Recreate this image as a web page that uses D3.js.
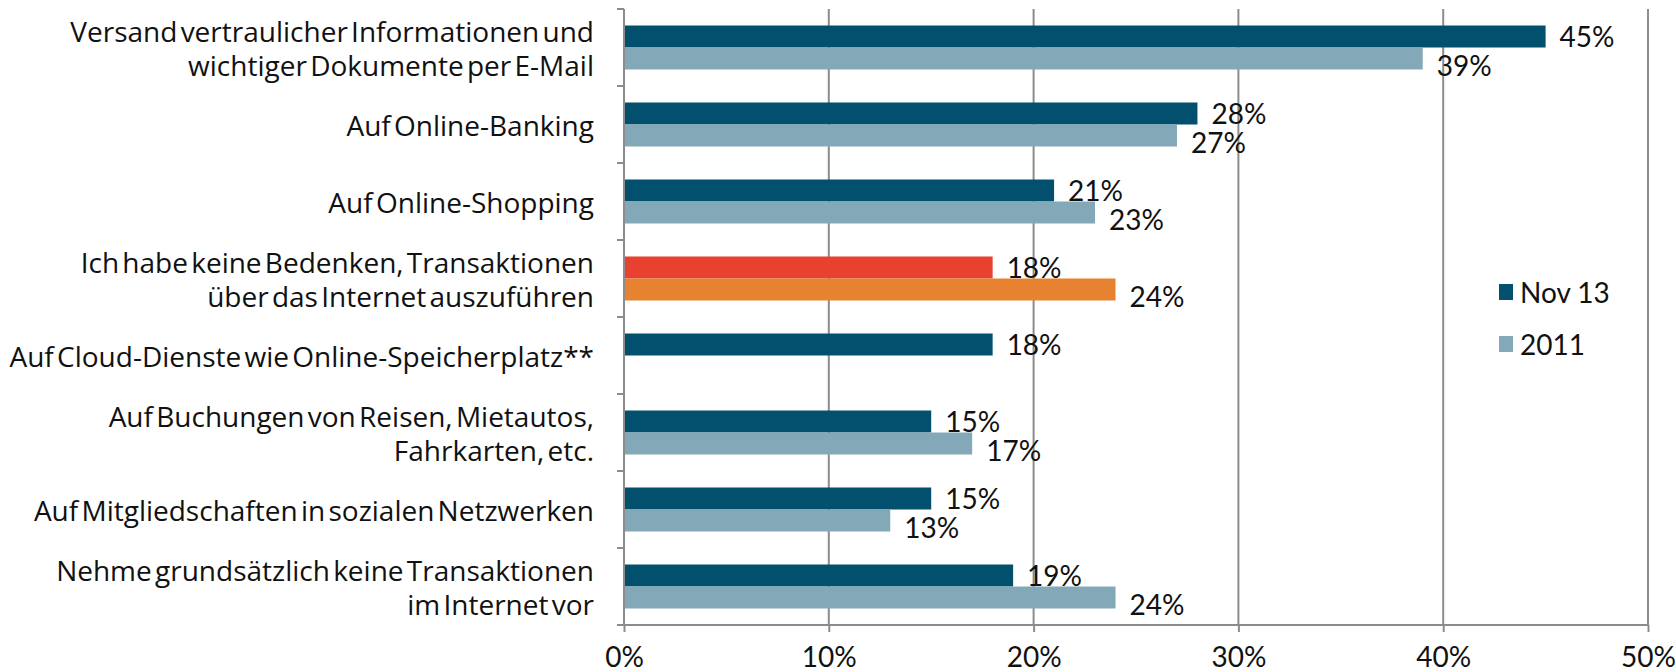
<html>
<head>
    <meta charset="utf-8">
    <title>Transaktionen im Internet</title>
    <script src="https://d3js.org/d3.v7.min.js"></script>
    <style>
        body { margin:0; background:#fff; }
        .cat { font-family:"Open Sans", sans-serif; font-size:28px; fill:#111; word-spacing:-4px; }
        .val, .legend text { font-family:Lato, sans-serif; font-size:28px; fill:#111; }
    </style>
</head>
<body>
    <svg id="chart" width="1676" height="672"></svg>

    <script>
        // category labels (line breaks as in the original)
        var categories = [
            ["Versand vertraulicher Informationen und", "wichtiger Dokumente per E-Mail"],
            ["Auf Online-Banking"],
            ["Auf Online-Shopping"],
            ["Ich habe keine Bedenken, Transaktionen", "über das Internet auszuführen"],
            ["Auf Cloud-Dienste wie Online-Speicherplatz**"],
            ["Auf Buchungen von Reisen, Mietautos,", "Fahrkarten, etc."],
            ["Auf Mitgliedschaften in sozialen Netzwerken"],
            ["Nehme grundsätzlich keine Transaktionen", "im Internet vor"]
        ];
        var series = ["Nov 13", "2011"];
        var nov13 = [45, 28, 21, 18, 18, 15, 15, 19];
        var y2011 = [39, 27, 23, 24, null, 17, 13, 24];
        var ticks = [0, 10, 20, 30, 40, 50];

        var colors = {"Nov 13": "#03506e", "2011": "#83a8b8"};
        var highlight = {"Nov 13": "#e8412f", "2011": "#e68230"};
        var highlightRow = 3;

        var svg = d3.select("#chart");
        var plotLeft = 624, plotRight = 1648, plotTop = 9, plotBottom = 625;

        var x = d3.scaleLinear().domain([0, 50]).range([plotLeft, plotRight]);
        var y = d3.scaleBand().domain(d3.range(categories.length)).range([plotTop, plotBottom]);
        var yInner = d3.scaleBand().domain(series).range([0, y.bandwidth()]).paddingOuter(0.75);

        // vertical gridlines
        svg.append("g").selectAll("line").data(ticks.slice(1)).enter().append("line")
            .attr("x1", function(d){ return x(d); }).attr("x2", function(d){ return x(d); })
            .attr("y1", plotTop).attr("y2", plotBottom)
            .style("stroke", "#8c8c8c").style("stroke-width", 2);

        var rows = categories.map(function(c, i){
            return [{s:"Nov 13", v:nov13[i], i:i}, {s:"2011", v:y2011[i], i:i}];
        });

        var groups = svg.append("g").selectAll("g").data(rows).enter().append("g")
            .attr("transform", function(d, i){ return "translate(0," + y(i) + ")"; });

        var bars = groups.selectAll("g.bar").data(function(d){ return d.filter(function(e){ return e.v !== null; }); })
            .enter().append("g").attr("class", "bar");

        bars.append("rect")
            .attr("x", x(0))
            .attr("y", function(d){ return yInner(d.s); })
            .attr("height", yInner.bandwidth())
            .attr("width", function(d){ return x(d.v) - x(0); })
            .style("fill", function(d){ return d.i === highlightRow ? highlight[d.s] : colors[d.s]; });

        bars.append("text").attr("class", "val")
            .attr("x", function(d){ return x(d.v) + 14; })
            .attr("y", function(d){ return yInner(d.s) + yInner.bandwidth() / 2 + (d.s === "2011" ? 6 : -1); })
            .attr("dominant-baseline", "central")
            .text(function(d){ return d.v + "%"; });

        // x axis
        var xAxis = svg.append("g")
            .attr("transform", "translate(0," + plotBottom + ")")
            .call(d3.axisBottom(x).tickValues(ticks).tickSize(7).tickPadding(14).tickFormat(function(d){ return d + "%"; }));
        xAxis.select(".domain").attr("d", "M" + (plotLeft - 7) + ",0H" + plotRight).style("stroke", "#8c8c8c").style("stroke-width", 2);
        xAxis.selectAll(".tick line").style("stroke", "#8c8c8c").style("stroke-width", 2);
        xAxis.selectAll("text").style("font-family", "Lato, sans-serif").style("font-size", "28px").style("fill", "#111")
            .attr("dy", "0.75em");

        // category axis
        var yAxis = svg.append("g").attr("transform", "translate(" + plotLeft + ",0)");
        yAxis.append("line").attr("x1", 0).attr("x2", 0).attr("y1", plotTop).attr("y2", plotBottom)
            .style("stroke", "#8c8c8c").style("stroke-width", 2);
        yAxis.selectAll("line.t").data(d3.range(categories.length + 1)).enter().append("line")
            .attr("x1", -7).attr("x2", 0)
            .attr("y1", function(d){ return plotTop + d * y.step(); })
            .attr("y2", function(d){ return plotTop + d * y.step(); })
            .style("stroke", "#8c8c8c").style("stroke-width", 2);

        var labels = svg.append("g").selectAll("text").data(categories).enter().append("text")
            .attr("class", "cat")
            .attr("text-anchor", "end")
            .attr("transform", function(d, i){ return "translate(594," + (y(i) + y.bandwidth() / 2) + ")"; });
        labels.selectAll("tspan").data(function(d){ return d; }).enter().append("tspan")
            .attr("x", 0)
            .attr("y", function(d, j, all){ return (j - (all.length - 1) / 2) * 34; })
            .attr("dominant-baseline", "central")
            .text(function(d){ return d; });

        // legend
        var legend = svg.append("g").attr("class", "legend").attr("transform", "translate(1499,284)");
        var items = legend.selectAll("g").data(series).enter().append("g")
            .attr("transform", function(d, i){ return "translate(0," + i * 52 + ")"; });
        items.append("rect").attr("width", 14).attr("height", 16)
            .style("fill", function(d){ return colors[d]; });
        items.append("text").attr("x", 21).attr("y", 8).attr("dominant-baseline", "central")
            .text(function(d){ return d; });
    </script>
</body>
</html>
